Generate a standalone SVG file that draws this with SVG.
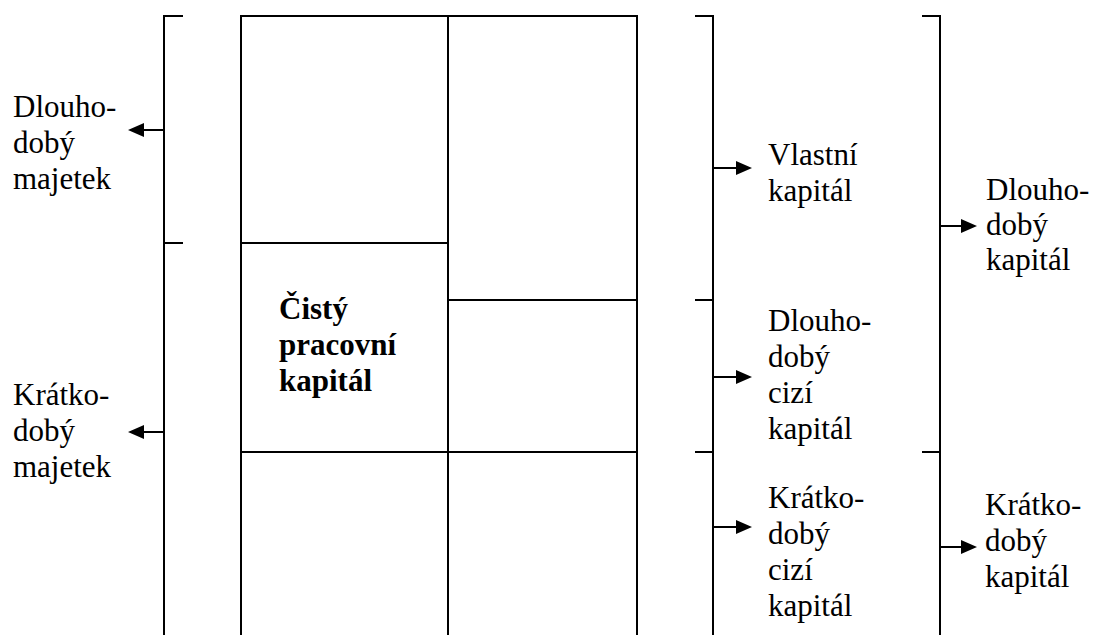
<svg xmlns="http://www.w3.org/2000/svg" width="1094" height="635" viewBox="0 0 1094 635">
<defs>
<style>
.ln{stroke:#000;stroke-width:2;fill:none;}
.hd{fill:#000;stroke:none;}
</style>
</defs>
<rect width="1094" height="635" fill="#fff"/>
<g id="balance">
<path class="ln" d="M241,635 V16 H637 V635 M448,16 V635 M241,243 H448 M448,300 H637 M241,452 H637"/>
<text x="279" y="319" font-family="Liberation Serif" font-size="31" font-weight="bold">Čistý</text>
<text x="279" y="355" font-family="Liberation Serif" font-size="31" font-weight="bold">pracovní</text>
<text x="279" y="391" font-family="Liberation Serif" font-size="31" font-weight="bold">kapitál</text>
</g>
<g id="left-bracket">
<path class="ln" d="M183,16 H164 V635 M164,243 H183"/>
</g>
<g id="right-bracket-1">
<path class="ln" d="M695,16 H713 V635 M695,300 H713 M695,452 H713"/>
</g>
<g id="right-bracket-2">
<path class="ln" d="M922,16 H940 V635 M922,452 H940"/>
</g>
<g id="connectors">
<path class="ln" d="M164,130 H140 M164,432 H140 M713,168 H738 M713,377 H738 M713,527 H738 M940,226 H963 M940,547 H963"/>
<path class="hd" d="M128,130 L144,123 L144,137 Z M128,432 L144,425 L144,439 Z M752,168 L736,161 L736,175 Z M752,377 L736,370 L736,384 Z M752,527 L736,520 L736,534 Z M977,226 L961,219 L961,233 Z M977,547 L961,540 L961,554 Z"/>
</g>
<g id="label-dlouhodoby-majetek">
<text x="13" y="117" font-family="Liberation Serif" font-size="31">Dlouho-</text>
<text x="13" y="153" font-family="Liberation Serif" font-size="31">dobý</text>
<text x="13" y="189" font-family="Liberation Serif" font-size="31">majetek</text>
</g>
<g id="label-kratkodoby-majetek">
<text x="13" y="405" font-family="Liberation Serif" font-size="31">Krátko-</text>
<text x="13" y="441" font-family="Liberation Serif" font-size="31">dobý</text>
<text x="13" y="477" font-family="Liberation Serif" font-size="31">majetek</text>
</g>
<g id="label-vlastni-kapital">
<text x="768" y="165" font-family="Liberation Serif" font-size="31">Vlastní</text>
<text x="768" y="201" font-family="Liberation Serif" font-size="31">kapitál</text>
</g>
<g id="label-dlouhodoby-cizi-kapital">
<text x="768" y="331" font-family="Liberation Serif" font-size="31">Dlouho-</text>
<text x="768" y="367" font-family="Liberation Serif" font-size="31">dobý</text>
<text x="768" y="403" font-family="Liberation Serif" font-size="31">cizí</text>
<text x="768" y="439" font-family="Liberation Serif" font-size="31">kapitál</text>
</g>
<g id="label-kratkodoby-cizi-kapital">
<text x="768" y="508" font-family="Liberation Serif" font-size="31">Krátko-</text>
<text x="768" y="544" font-family="Liberation Serif" font-size="31">dobý</text>
<text x="768" y="580" font-family="Liberation Serif" font-size="31">cizí</text>
<text x="768" y="616" font-family="Liberation Serif" font-size="31">kapitál</text>
</g>
<g id="label-dlouhodoby-kapital">
<text x="986" y="200" font-family="Liberation Serif" font-size="31">Dlouho-</text>
<text x="986" y="235" font-family="Liberation Serif" font-size="31">dobý</text>
<text x="986" y="270" font-family="Liberation Serif" font-size="31">kapitál</text>
</g>
<g id="label-kratkodoby-kapital">
<text x="985" y="515" font-family="Liberation Serif" font-size="31">Krátko-</text>
<text x="985" y="551" font-family="Liberation Serif" font-size="31">dobý</text>
<text x="985" y="587" font-family="Liberation Serif" font-size="31">kapitál</text>
</g>
</svg>
